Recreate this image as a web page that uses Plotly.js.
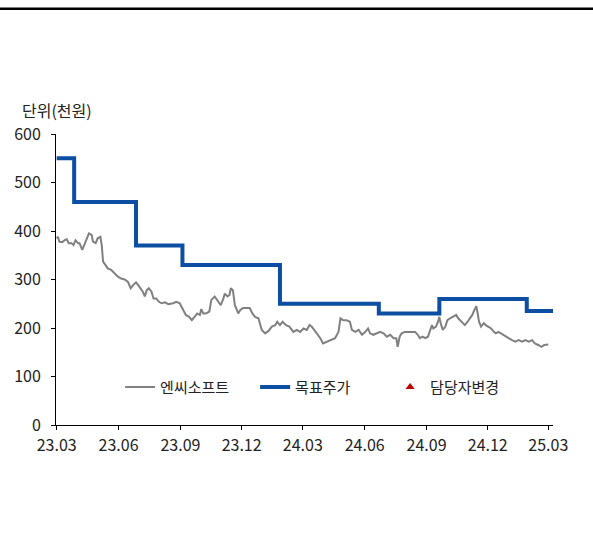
<!DOCTYPE html>
<html><head><meta charset="utf-8">
<script src="https://cdn.plot.ly/plotly-3.0.1.min.js"></script>
<style>html,body{margin:0;padding:0;background:#fff}#chart{width:593px;height:536px}</style>
</head><body><div id="chart"></div>
<script>
// Base date and stock price series (day offsets from base, price in thousand KRW)
const baseDate = '2023-03-01';
const priceDays = [0,2,4,8,12,15,18,22,25,28,32,34,38,42,45,48,52,54,58,61,65,67,69,73,76,81,86,91,96,101,106,110,114,118,121,125,128,131,134,137,141,144,148,152,156,161,166,173,178,183,187,192,197,201,205,209,213,215,218,222,227,230,235,240,244,248,250,254,257,259,262,265,270,273,277,282,287,291,295,300,305,310,315,320,325,328,332,336,341,346,352,357,362,367,372,376,379,383,387,392,396,402,406,414,419,422,426,431,436,439,444,449,454,459,463,466,471,476,481,486,491,496,501,505,507,510,513,518,523,528,533,537,540,544,548,552,555,558,560,564,567,569,571,574,578,581,585,590,594,597,600,603,607,611,615,618,621,624,626,628,631,635,638,642,646,650,653,657,661,664,668,672,677,682,687,692,697,702,707,711,716,721,725,731];
const priceValues = [385,388,378,377,381,383,375,375,371,381,375,375,361,375,388,395,392,378,375,385,388,371,337,330,323,320,313,306,302,300,295,282,289,294,289,282,275,265,278,282,275,261,261,254,251,253,249,251,254,251,241,227,223,216,223,230,227,239,230,230,234,258,265,254,247,261,271,265,268,282,278,247,230,237,241,241,241,230,223,220,196,189,194,203,206,213,206,213,206,203,192,196,192,199,196,206,203,196,189,179,168,172,175,179,192,220,216,216,213,196,192,196,186,192,199,189,186,189,192,189,182,186,179,179,161,182,189,192,192,192,192,186,179,182,179,182,196,206,199,203,213,223,210,196,203,216,220,223,227,220,216,210,206,213,220,227,237,245,230,213,203,210,206,203,199,192,189,192,189,186,182,179,175,172,175,172,175,172,175,168,165,161,165,166];

// Target price (thousand KRW), step changes
const targetDates = ['2023-03-01','2023-03-27','2023-06-27','2023-09-04','2024-01-27','2024-06-22','2024-09-20','2025-01-28','2025-03-08'];
const targetValues = [550,460,370,330,250,230,260,235,235];

// Axis ticks
const tickDates = ['2023-03-01','2023-06-01','2023-09-01','2023-12-01','2024-03-01','2024-06-01','2024-09-01','2024-12-01','2025-03-01'];
const tickLabels = ['23.03','23.06','23.09','23.12','24.03','24.06','24.09','24.12','25.03'];
const yTicks = [0,100,200,300,400,500,600];

const legendNames = ['엔씨소프트','목표주가','담당자변경'];

function dayToDate(d){
  const t = new Date(baseDate + 'T00:00:00Z');
  t.setUTCDate(t.getUTCDate() + d);
  return t.toISOString().slice(0,10);
}
const priceDates = priceDays.map(dayToDate);

const FONT = '"Noto Sans CJK KR", "Noto Sans", sans-serif';

const traces = [
  {x: priceDates, y: priceValues, type:'scatter', mode:'lines', name: legendNames[0],
   line:{color:'#808080', width:2}},
  {x: targetDates, y: targetValues, type:'scatter', mode:'lines', name: legendNames[1],
   line:{color:'#0b4ea2', width:4, shape:'hv'}},
  {x:[null], y:[null], type:'scatter', mode:'markers', name: legendNames[2],
   marker:{symbol:'triangle-up', color:'#c00000', size:8}}
];

const layout = {
  width:593, height:536,
  margin:{l:56, r:40, t:134, b:111},
  paper_bgcolor:'#fff', plot_bgcolor:'#fff',
  font:{family:FONT, size:15, color:'#222'},
  showlegend:true,
  legend:{orientation:'h', x:0.129, xanchor:'left', y:0.13, yanchor:'middle',
          font:{family:FONT, size:15, color:'#222'}, bgcolor:'rgba(0,0,0,0)',
          entrywidth:90, entrywidthmode:'pixels', itemwidth:30},
  xaxis:{type:'date', range:['2023-02-28','2025-03-08'], tickvals:tickDates, ticktext:tickLabels,
         showgrid:false, zeroline:false, showline:true, linecolor:'#000', linewidth:1,
         ticks:'outside', ticklen:4, tickcolor:'#000', ticklabelstandoff:2,
         tickfont:{family:FONT,size:16,color:'#222'}},
  yaxis:{range:[0,600], tickvals:yTicks, showgrid:false, zeroline:false,
         showline:true, linecolor:'#000', linewidth:1, ticks:'outside', ticklen:4, tickcolor:'#000',
         ticklabelstandoff:7, tickfont:{family:FONT,size:16,color:'#222'}},
  annotations:[
    {text:'단위(천원)', xref:'paper', yref:'paper', x:-0.072, y:1.0825, xanchor:'left', yanchor:'middle',
     showarrow:false, font:{family:FONT, size:16, color:'#222'}}
  ],
  shapes:[
    {type:'line', xref:'paper', yref:'paper', x0:-0.2, x1:1.2, y0:1.43, y1:1.43,
     line:{color:'#000', width:2.5}}
  ]
};

Plotly.newPlot('chart', traces, layout, {displayModeBar:false, staticPlot:true});
</script></body></html>
